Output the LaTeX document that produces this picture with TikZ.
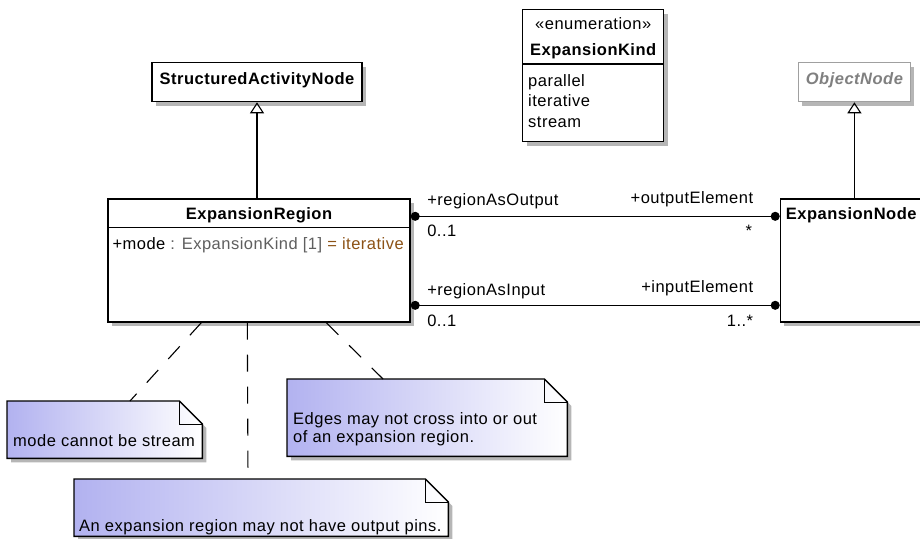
\documentclass[tikz,border=0pt]{standalone}
\usepackage{fontspec}
\setmainfont{Liberation Sans}[LetterSpace=3]
\usetikzlibrary{positioning,arrows.meta,shadows,backgrounds}
\definecolor{shadowgray}{RGB}{182,182,182}
\definecolor{notelav}{RGB}{178,178,240}
\definecolor{typegray}{RGB}{95,95,95}
\definecolor{defbrown}{RGB}{140,82,22}
\definecolor{abstractgray}{RGB}{128,128,128}
\definecolor{abstractline}{RGB}{160,160,160}

% dog-ear outline, cut corner and shadow of a note
\newcommand{\notefold}[1]{%
  \begin{scope}[on background layer]
    \fill[shadowgray] ([shift={(4pt,-4pt)}]#1.north west) -- ([shift={(-19pt,-4pt)}]#1.north east)
      -- ([shift={(4pt,-27pt)}]#1.north east) -- ([shift={(4pt,-4pt)}]#1.south east)
      -- ([shift={(4pt,-4pt)}]#1.south west) -- cycle;
  \end{scope}
  \fill[white] ([xshift=-23pt]#1.north east) -- (#1.north east) -- ([yshift=-23pt]#1.north east) -- cycle;
  \draw[line width=1.4pt] (#1.north west) -- ([xshift=-23pt]#1.north east) -- ([yshift=-23pt]#1.north east)
    -- (#1.south east) -- (#1.south west) -- cycle;
  \draw[line width=1pt] ([xshift=-23pt]#1.north east) |- ([yshift=-23pt]#1.north east);
}

\begin{document}
\begin{tikzpicture}[x=1pt, y=-1pt,
  font=\fontsize{16.5}{20}\selectfont,
  classbox/.style={rectangle, draw, line width=1.4pt, fill=white, inner sep=0pt,
                   drop shadow={shadow xshift=4pt, shadow yshift=-4pt, fill=shadowgray, opacity=1}},
  classtitle/.style={font=\fontsize{16.5}{20}\selectfont\bfseries, text height=12pt, text depth=7.5pt},
  titletext/.style={font=\fontsize{16.5}{20}\selectfont\bfseries, inner sep=0pt},
  lbl/.style={inner sep=0pt},
  note/.style={rectangle, inner sep=0pt, left color=notelav, right color=white, anchor=north west},
  notetext/.style={inner sep=0pt},
  gen/.style={-{Triangle[open, length=11pt, width=14pt]}, line width=1.1pt},
  assoc/.style={{Circle[length=9pt]}-{Circle[length=9pt]}, line width=1.1pt},
  anchorline/.style={line width=1.1pt, dash pattern=on 17pt off 15pt},
]
\useasboundingbox (0,0) rectangle (920,538);

% classes
\node[classbox, minimum width=302pt, minimum height=123pt] (region) at (259,260.5) {};
\node[classbox, minimum width=146pt, minimum height=123pt, right=369pt of region] (expnode) {};
\node[classbox, classtitle, minimum width=210pt, minimum height=39pt, above=96pt of region, xshift=-2pt] (san) {StructuredActivityNode};
\node[classbox, classtitle, draw=abstractline, text=abstractgray, font=\fontsize{16.5}{20}\selectfont\bfseries\itshape,
      minimum width=112pt, minimum height=39pt, above=96pt of expnode, xshift=1pt] (objnode) {ObjectNode};
\node[classbox, minimum width=141pt, minimum height=132pt, anchor=north west] (kind) at (522,9) {};

\node[titletext, anchor=base] (regiontitle) at ([yshift=-21pt]region.north) {ExpansionRegion};
\draw[line width=1.4pt] ([yshift=-29pt]region.north west) -- ([yshift=-29pt]region.north east);
\node[lbl, anchor=base west] (modeattr) at ([shift={(5pt,-51pt)}]region.north west)
  {+mode~\textcolor{typegray}{: ExpansionKind [1]}~\textcolor{defbrown}{= iterative}};

\node[titletext, anchor=base west] (expnodetitle) at ([shift={(6pt,-21pt)}]expnode.north west) {ExpansionNode};

\node[lbl, anchor=base] (kindstereo) at ([yshift=-20pt]kind.north) {«enumeration»};
\node[titletext, anchor=base] (kindtitle) at ([yshift=-46pt]kind.north) {ExpansionKind};
\draw[line width=1.4pt] ([yshift=-55pt]kind.north west) -- ([yshift=-55pt]kind.north east);
\node[lbl, anchor=north west, align=left, font=\fontsize{16.5}{20.5}\selectfont] (kindlits)
  at ([shift={(6pt,-65pt)}]kind.north west) {parallel\\iterative\\stream};

% generalizations
\draw[gen] (san.south |- region.north) -- (san.south);
\draw[gen] (objnode.south |- expnode.north) -- (objnode.south);

% associations
\coordinate (outL) at ([yshift=-18pt]region.north east);
\coordinate (inL) at ([yshift=-107pt]region.north east);
\draw[assoc] (outL) -- (outL -| expnode.west)
  node[lbl, anchor=base west, at start, xshift=16pt, yshift=10.5pt] (outrole) {+regionAsOutput}
  node[lbl, anchor=base west, at start, xshift=16pt, yshift=-20pt] (outmultL) {0..1}
  node[lbl, anchor=base east, at end, xshift=-26pt, yshift=13pt] (outelem) {+outputElement}
  node[lbl, anchor=base east, at end, xshift=-27pt, yshift=-20pt] (outmultR) {*};
\draw[assoc] (inL) -- (inL -| expnode.west)
  node[lbl, anchor=base west, at start, xshift=16pt, yshift=10pt] (inrole) {+regionAsInput}
  node[lbl, anchor=base west, at start, xshift=16pt, yshift=-21pt] (inmultL) {0..1}
  node[lbl, anchor=base east, at end, xshift=-26pt, yshift=13pt] (inelem) {+inputElement}
  node[lbl, anchor=base east, at end, xshift=-26pt, yshift=-21pt] (inmultR) {1..*};

% notes
\node[note, minimum width=195pt, minimum height=57pt] (modenote) at (7,401) {};
\notefold{modenote}
\node[notetext, anchor=base west] (modetext) at ([shift={(6pt,12pt)}]modenote.south west) {mode cannot be stream};

\node[note, minimum width=280pt, minimum height=77pt] (edgenote) at (287,379) {};
\notefold{edgenote}
\node[notetext, anchor=north west, align=left, font=\fontsize{16.5}{18}\selectfont] (edgetext)
  at ([shift={(6pt,-33pt)}]edgenote.north west) {Edges may not cross into or out\\of an expansion region.};

\node[note, minimum width=374pt, minimum height=57pt] (pinnote) at (74,479) {};
\notefold{pinnote}
\node[notetext, anchor=base west] (pintext) at ([shift={(5pt,5pt)}]pinnote.south west) {An expansion region may not have output pins.};

\draw[anchorline] ([xshift=94pt]region.south west) -- ([xshift=123pt]modenote.north west);
\draw[anchorline] ([xshift=140pt]region.south west) -- ([xshift=174pt]pinnote.north west);
\draw[anchorline] ([xshift=219pt]region.south west) -- ([xshift=96pt]edgenote.north west);
\end{tikzpicture}
\end{document}
